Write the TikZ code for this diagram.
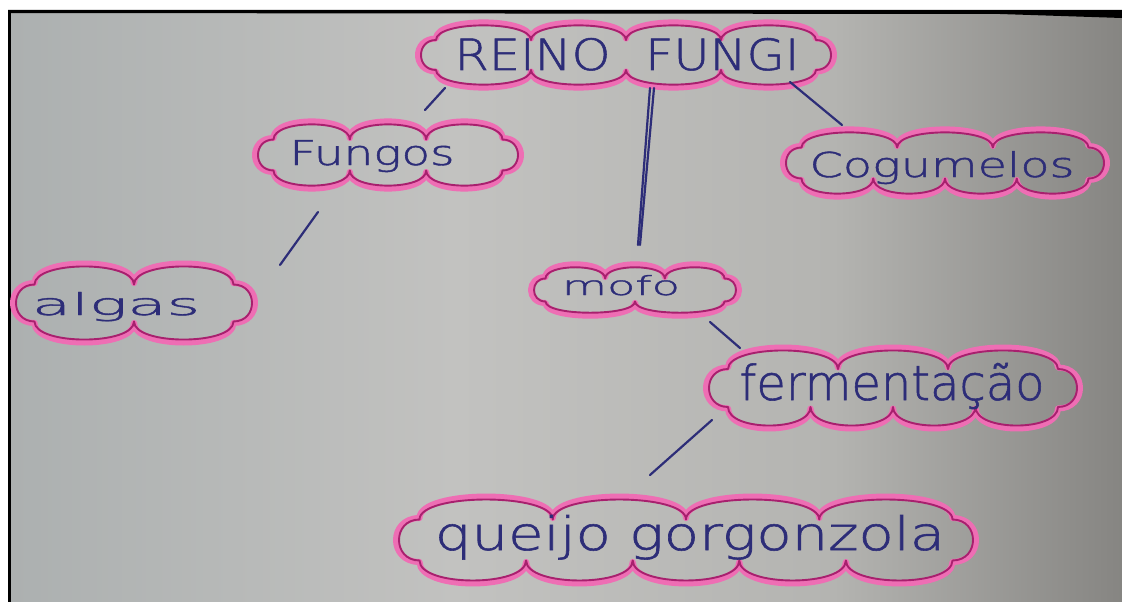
\documentclass[tikz,border=0pt]{standalone}
\usepackage{fontspec}
\newfontfamily\handfont{DejaVuSans-ExtraLight.ttf}[FakeBold=1.2]
\definecolor{ink}{RGB}{45,45,120}
\definecolor{hilite}{RGB}{238,110,180}
\definecolor{penline}{RGB}{168,32,110}
\definecolor{paperL}{RGB}{172,176,176}
\definecolor{paperM}{RGB}{194,194,192}
\definecolor{paperN}{RGB}{180,180,177}
\definecolor{paperR}{RGB}{134,133,130}
\pgfdeclarehorizontalshading{paper}{100bp}{color(0bp)=(paperL); color(25bp)=(paperL); color(45bp)=(paperM); color(62bp)=(paperN); color(75bp)=(paperR); color(100bp)=(paperR)}
% one puffy outline around the origin: half width, half height, bumps on top, bumps below, style
\newcommand\cloudpath[5]{%
  \pgfmathsetmacro\cw{#1}\pgfmathsetmacro\ch{#2}\pgfmathsetmacro\ce{0.5*#2}%
  \pgfmathsetmacro\dt{(2*\cw-2*\ce)/#3}\pgfmathsetmacro\db{(2*\cw-2*\ce)/#4}%
  \path[#5]
    (-\cw+\ce,-0.5*\ch)
    foreach \i in {1,...,#3} { .. controls +(0,-0.65*\ch) and +(0,-0.65*\ch) .. ++(\dt,0) }
    .. controls +(1.333*\ce,0) and +(1.333*\ce,0) .. (\cw-\ce,0.5*\ch)
    foreach \i in {1,...,#4} { .. controls +(0,0.65*\ch) and +(0,0.65*\ch) .. ++(-\db,0) }
    .. controls +(-1.333*\ce,0) and +(-1.333*\ce,0) .. (-\cw+\ce,-0.5*\ch) -- cycle;}
% marker band outside, pen line inside: centre x, centre y, half width, half height, bumps top, bumps below
\newcommand\puffcloud[6]{%
  \begin{scope}[shift={(#1,#2)}]
    \cloudpath{#3+3}{#4+3}{#5}{#6}{markerband}
    \cloudpath{#3}{#4}{#5}{#6}{penstroke}
  \end{scope}}
\begin{document}
\begin{tikzpicture}[x=1pt,y=-1pt,
  markerband/.style={draw=hilite, line width=6pt, line join=round},
  penstroke/.style={draw=penline, line width=1.9pt, line join=round},
  spot/.style={draw=none, inner sep=0pt},
  word/.style={anchor=base, inner sep=0pt, text=ink, font=\handfont},
  link/.style={draw=ink, line width=2.2pt, line cap=round}]
  % paper and frame
  \useasboundingbox (0,0) rectangle (1122,602);
  \fill[white] (0,0) rectangle (1122,602);
  \shade[shading=paper] (10,13) rectangle (1122,602);
  \fill[black] (8,10) rectangle (10.5,602);
  \fill[black] (8,10) -- (1122,10) -- (1122,18) -- (1000,14) -- (8,13) -- cycle;

  % cloud places
  \node[spot, minimum width=414pt, minimum height=64pt] (reino) at (626,55) {};
  \node[spot, minimum width=264pt, minimum height=66pt] (fungos) at (388,155) {};
  \node[spot, minimum width=322pt, minimum height=66pt] (cog) at (945,163) {};
  \node[spot, minimum width=240pt, minimum height=78pt] (algas) at (134,303) {};
  \node[spot, minimum width=206pt, minimum height=50pt] (mofo) at (635,290) {};
  \node[spot, minimum width=372pt, minimum height=80pt] (ferm) at (893,388) {};
  \node[spot, minimum width=578pt, minimum height=86pt] (queijo) at (686,540) {};

  % cloud outlines
  \puffcloud{626}{55}{205}{30}{4}{4}
  \puffcloud{388}{155}{130}{31}{3}{3}
  \puffcloud{945}{163}{159}{31}{3}{4}
  \puffcloud{134}{303}{118}{37}{2}{2}
  \puffcloud{635}{290}{101}{23}{3}{2}
  \puffcloud{893}{388}{184}{38}{3}{4}
  \puffcloud{686}{540}{287}{41}{4}{5}

  % handwritten words
  \node[word] (reinoT) at (627,70) {\resizebox{345pt}{32pt}{REINO\hspace{0.7em}FUNGI}};
  \node[word] (fungosT) at (372,165) {\resizebox{165pt}{25pt}{Fungos}};
  \node[word] (cogT) at (942,177) {\resizebox{265pt}{26pt}{Cogumelos}};
  \node[word] (algasT) at (116,315) {\resizebox{168pt}{23pt}{algas}};
  \node[word] (mofoT) at (621,295) {\resizebox{118pt}{20pt}{mofo}};
  \node[word] (fermT) at (892,400) {\resizebox{305pt}{37pt}{fermentação}};
  \node[word] (queijoT) at (690,550) {\resizebox{510pt}{35pt}{queijo gorgonzola}};

  % connectors
  \draw[link] ([shift={(-181,33)}]reino.center) -- ([shift={(37,-45)}]fungos.center);
  \draw[link] ([shift={(24,33)}]reino.center) -- ([shift={(3,-45)}]mofo.center);
  \draw[link] ([shift={(28,33)}]reino.center) -- ([shift={(5,-45)}]mofo.center);
  \draw[link] ([shift={(164,27)}]reino.center) -- ([shift={(-103,-38)}]cog.center);
  \draw[link] ([shift={(-70,57)}]fungos.center) -- ([shift={(146,-38)}]algas.center);
  \draw[link] ([shift={(75,32)}]mofo.center) -- ([shift={(-153,-40)}]ferm.center);
  \draw[link] ([shift={(-181,32)}]ferm.center) -- ([shift={(-36,-65)}]queijo.center);
\end{tikzpicture}
\end{document}
